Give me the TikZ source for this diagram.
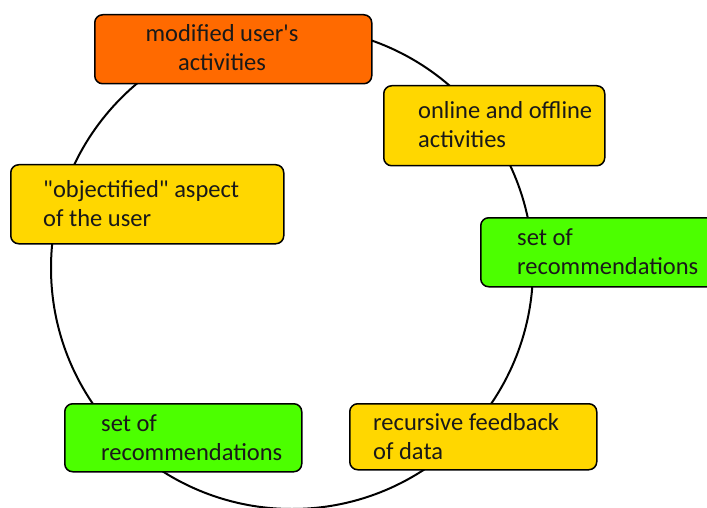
\documentclass[tikz,border=0pt]{standalone}
\usepackage{fontspec}
\setmainfont{Carlito}[Ligatures=TeXOff]
\definecolor{orng}{HTML}{FF6A00}
\definecolor{gold}{HTML}{FFD700}
\definecolor{lime}{HTML}{4CFF00}
\begin{document}
\begin{tikzpicture}[x=1pt,y=-1pt,
  box/.style={draw=black, line width=1.5pt, rounded corners=8pt, anchor=north west, inner sep=0pt},
  lbl/.style={font=\fontsize{24.5}{29}\selectfont, align=left, inner sep=0pt, anchor=west, text=black!90}]
\useasboundingbox (0,0) rectangle (707,508);
\coordinate (c) at (292,268);
\draw[line width=2pt] (c) circle [radius=241pt];
% boxes
\node[box, fill=orng, minimum width=277pt, minimum height=69pt] (b1) at (94,14) {};
\node[lbl, align=center, anchor=center] (t1) at (222,48) {modified user's\\activities};
\node[box, fill=gold, minimum width=221pt, minimum height=80pt] (b2) at (383,85) {};
\node[lbl] (t2) at (418,125) {online and offline\\activities};
\node[box, fill=lime, minimum width=240pt, minimum height=69pt] (b3) at (480,217) {};
\node[lbl] (t3) at (517,252) {set of\\recommendations};
\node[box, fill=gold, minimum width=273pt, minimum height=79pt] (b6) at (10,164) {};
\node[lbl] (t6) at (43,204) {"objectified" aspect\\of the user};
\node[box, fill=lime, minimum width=237pt, minimum height=68pt] (b5) at (64,403) {};
\node[lbl] (t5) at (101,438) {set of\\recommendations};
\node[box, fill=gold, minimum width=247pt, minimum height=66pt] (b4) at (349,403) {};
\node[lbl] (t4) at (373,437) {recursive feedback\\of data};
\end{tikzpicture}
\end{document}
